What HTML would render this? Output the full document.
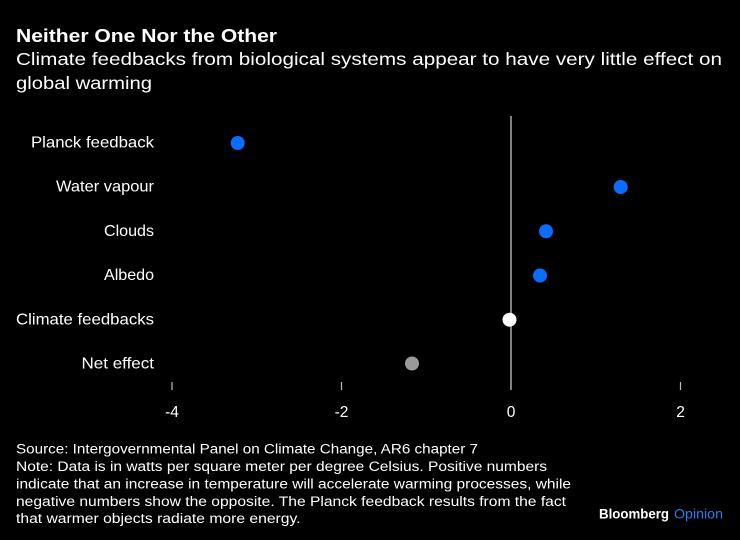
<!DOCTYPE html>
<html>
<head>
<meta charset="utf-8">
<style>
  html,body{margin:0;padding:0;background:#000;}
  svg{display:block;}
  text{font-family:"Liberation Sans", sans-serif;}
</style>
</head>
<body>
<svg width="740" height="540" viewBox="0 0 740 540" xmlns="http://www.w3.org/2000/svg">
  <rect x="0" y="0" width="740" height="540" fill="#000"/>
  <!-- Title -->
  <text x="16" y="42" fill="#fff" font-size="18.5" font-weight="bold" textLength="261" lengthAdjust="spacingAndGlyphs">Neither One Nor the Other</text>
  <text x="16" y="65" fill="#fff" font-size="17.5" textLength="706" lengthAdjust="spacingAndGlyphs">Climate feedbacks from biological systems appear to have very little effect on</text>
  <text x="16" y="89" fill="#fff" font-size="17.5" textLength="136" lengthAdjust="spacingAndGlyphs">global warming</text>

  <!-- Zero line -->
  <line x1="511" y1="116" x2="511" y2="390" stroke="#aaa" stroke-width="1.5"/>
  <!-- Ticks -->
  <line x1="172" y1="382" x2="172" y2="390" stroke="#bbb" stroke-width="1.2"/>
  <line x1="341.5" y1="382" x2="341.5" y2="390" stroke="#bbb" stroke-width="1.2"/>
  <line x1="680.5" y1="382" x2="680.5" y2="390" stroke="#bbb" stroke-width="1.2"/>

  <!-- Tick labels -->
  <g fill="#fff" font-size="15.5" text-anchor="middle">
    <text x="172" y="417">-4</text>
    <text x="341.5" y="417">-2</text>
    <text x="511" y="417">0</text>
    <text x="680.5" y="417">2</text>
  </g>

  <!-- Category labels -->
  <g fill="#fff" font-size="16" text-anchor="end">
    <text x="154" y="147.5" textLength="123" lengthAdjust="spacingAndGlyphs">Planck feedback</text>
    <text x="154" y="191.5" textLength="98" lengthAdjust="spacingAndGlyphs">Water vapour</text>
    <text x="154" y="236" textLength="50" lengthAdjust="spacingAndGlyphs">Clouds</text>
    <text x="154" y="280" textLength="50" lengthAdjust="spacingAndGlyphs">Albedo</text>
    <text x="154" y="324.5" textLength="138" lengthAdjust="spacingAndGlyphs">Climate feedbacks</text>
    <text x="154" y="368.5" textLength="72.5" lengthAdjust="spacingAndGlyphs">Net effect</text>
  </g>

  <!-- Dots -->
  <circle cx="237.7" cy="143" r="7" fill="#0b6cff"/>
  <circle cx="620.7" cy="187" r="7" fill="#0b6cff"/>
  <circle cx="546" cy="231.3" r="7" fill="#0b6cff"/>
  <circle cx="540" cy="275.5" r="7" fill="#0b6cff"/>
  <circle cx="509.5" cy="319.7" r="7" fill="#fff"/>
  <circle cx="412" cy="363.5" r="7" fill="#999"/>

  <!-- Footnote -->
  <g fill="#fff" font-size="13.5">
    <text x="16" y="453.5" textLength="462" lengthAdjust="spacingAndGlyphs">Source: Intergovernmental Panel on Climate Change, AR6 chapter 7</text>
    <text x="16" y="471" textLength="531" lengthAdjust="spacingAndGlyphs">Note: Data is in watts per square meter per degree Celsius. Positive numbers</text>
    <text x="16" y="488.5" textLength="555" lengthAdjust="spacingAndGlyphs">indicate that an increase in temperature will accelerate warming processes, while</text>
    <text x="16" y="506" textLength="550" lengthAdjust="spacingAndGlyphs">negative numbers show the opposite. The Planck feedback results from the fact</text>
    <text x="16" y="523" textLength="284.5" lengthAdjust="spacingAndGlyphs">that warmer objects radiate more energy.</text>
  </g>

  <!-- Branding -->
  <text x="599" y="518.5" fill="#fff" font-size="14" font-weight="bold" textLength="70" lengthAdjust="spacingAndGlyphs">Bloomberg</text>
  <text x="674" y="518.5" fill="#2b7de9" font-size="14" textLength="49" lengthAdjust="spacingAndGlyphs">Opinion</text>
</svg>
</body>
</html>
